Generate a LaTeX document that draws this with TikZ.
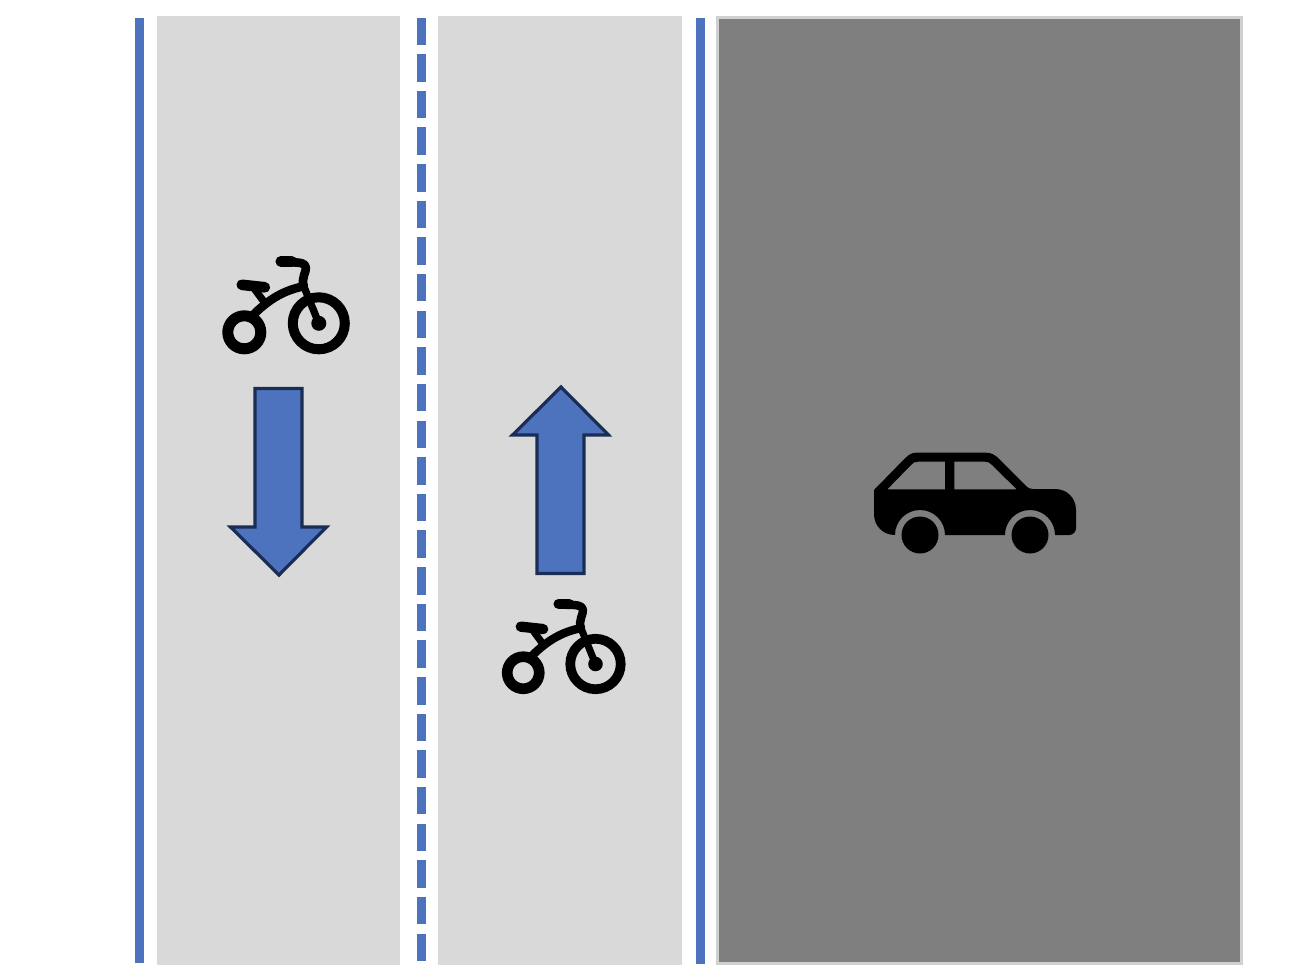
\documentclass[tikz,border=0pt]{standalone}
\usepackage{xcolor}
\definecolor{laneblue}{RGB}{78, 115, 190}
\definecolor{lanegray}{RGB}{217, 217, 217}
\definecolor{roadgray}{RGB}{127, 127, 127}
\definecolor{roadedge}{RGB}{208, 208, 208}
\definecolor{arrowedge}{RGB}{25, 45, 85}
\tikzset{
    lanerect/.style={fill=lanegray},
    lanemark/.style={fill=laneblue},
    dirarrow/.style={fill=laneblue, draw=arrowedge, line width=2.4pt, line join=miter},
}

\begin{document}
\begin{tikzpicture}[x=0.75pt, y=-0.75pt]
    \useasboundingbox (0, 0) rectangle (1304, 978);

    % Bike lanes
    \fill[lanerect] (157, 16) rectangle (400, 965);
    \fill[lanerect] (438, 16) rectangle (682, 965);

    % Road
    \draw[fill=roadgray, draw=roadedge, line width=2.25pt] (717.5, 17.5) rectangle (1241, 963.5);

    % Solid lines
    \fill[lanemark] (135, 18) rectangle (144, 963);
    \fill[lanemark] (696, 18) rectangle (705, 964);

    % Dashed centre line
    \foreach \i in {0, ..., 25} {
        \fill[lanemark] (417, 17.5 + \i * 36.64) rectangle (426, 45 + \i * 36.64);
    }

    % Direction arrows
    \draw[dirarrow] (255, 388.5) -- (302, 388.5) -- (302, 527) -- (326.5, 527) -- (279, 575) -- (230.5, 527) -- (255, 527) -- cycle;
    \draw[dirarrow] (537, 573.5) -- (584, 573.5) -- (584, 435) -- (608.5, 435) -- (561, 387) -- (512.5, 435) -- (537, 435) -- cycle;

    % Bikes
    \foreach \x/\y/\s in {318.8/323.3/1, 595.5/664/0.97} {
        \begin{scope}[shift={(\x, \y)}, scale=\s, line cap=round, line join=round]
            \draw[line width=\s*8.25pt] (-74.5, 9) circle (16.5);
            \draw[line width=\s*7.5pt] (0, 0) circle (26);
            \fill (0, 0) circle (7.5);
            % Frame
            \draw[line width=\s*6.5pt] (-66, -8) .. controls (-50, -24) and (-35, -33) .. (-15, -37);
            \draw[line width=\s*5.5pt] (-15, -37) -- (0, 0);
            \draw[line width=\s*6.5pt] (-15, -37) .. controls (-18, -45) and (-12, -52) .. (-13, -56) .. controls (-14, -60) and (-17, -61) .. (-30, -61);
            \draw[line width=\s*8pt] (-38, -62) -- (-27, -62);
            % Seat
            \draw[line width=\s*8pt] (-77, -38.5) -- (-54, -36);
            \draw[line width=\s*5.5pt] (-64, -34) -- (-53, -19);
        \end{scope}
    }

    % Car
    \fill[even odd rule] (874, 490) -- (905, 458.3) .. controls (909, 454.5) and (912, 452.7) .. (916, 452.7)
        -- (986, 452.7) .. controls (991, 452.7) and (994, 454.5) .. (997, 457) -- (1026, 486) .. controls (1028, 488) and (1030, 489) .. (1033, 489)
        -- (1055, 489) .. controls (1067, 489) and (1076, 498) .. (1076, 510)
        -- (1076, 528) .. controls (1076, 532) and (1073, 535) .. (1069, 535)
        -- (1055, 535) arc[start angle=0, end angle=-180, radius=25]
        -- (945, 535) arc[start angle=0, end angle=-180, radius=25]
        .. controls (883, 535) and (874, 526) .. (874, 514) -- cycle
        (887.3, 489.3) -- (911, 465) .. controls (913, 462.5) and (915, 461.7) .. (918, 461.7) -- (945, 461.7) -- (945, 489.3) -- cycle
        (954.3, 489.3) -- (954.3, 461.7) -- (985, 461.7) .. controls (988, 461.7) and (990, 462.5) .. (992, 465) -- (1016.7, 489.3) -- cycle;
    \fill (920, 535) circle (18.5);
    \fill (1030, 535) circle (18.5);
\end{tikzpicture}
\end{document}
